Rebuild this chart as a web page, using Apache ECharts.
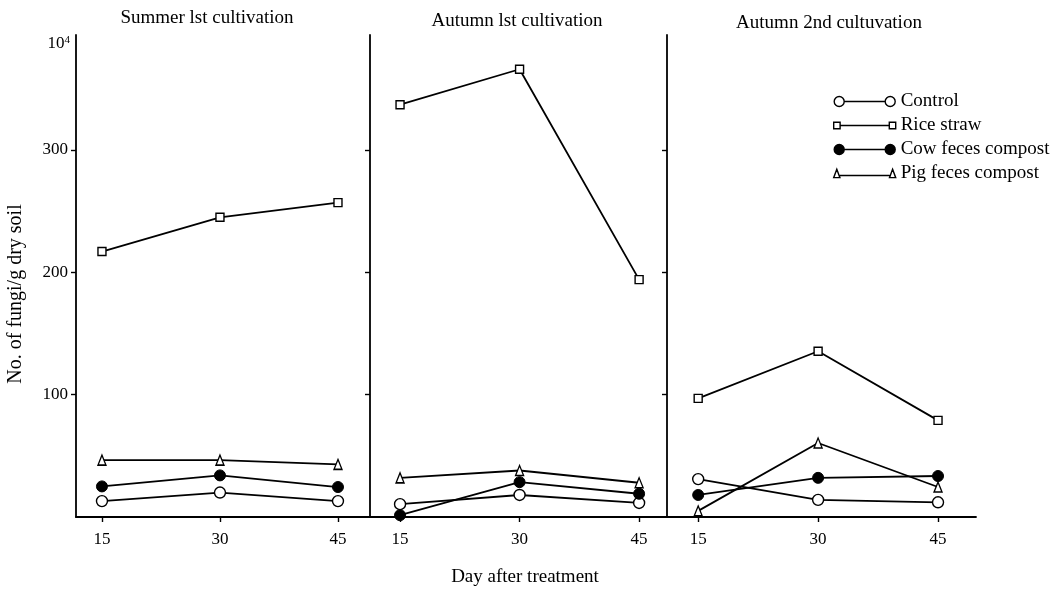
<!DOCTYPE html>
<html><head><meta charset="utf-8">
<script src="https://cdn.jsdelivr.net/npm/echarts@6/dist/echarts.min.js"></script>
<style>html,body{margin:0;padding:0;background:#fff}#c{width:1057px;height:590px}</style>
</head><body><div id="c"></div>
<script>
// ---- data ----
const days = [15, 30, 45];
const xTicks = [15, 30, 45];
const yTicks = [100, 200, 300];
const panelTitles = ['Summer lst cultivation', 'Autumn lst cultivation', 'Autumn 2nd cultuvation'];
const seriesNames = ['Control', 'Rice straw', 'Cow feces compost', 'Pig feces compost'];
const control    = [[13, 20, 13],    [10.5, 18, 11.5], [31, 14, 12]];
const riceStraw  = [[217, 245, 257], [337, 366, 194],  [97, 135.5, 79]];
const cowCompost = [[25, 34, 24.5],  [1.5, 28.5, 19],  [18, 32, 33.5]];
const pigCompost = [[46.5, 46.5, 43], [32, 38, 28],    [5, 60.5, 24.5]];
const yUnitLabel = '10';
const yUnitExp = '4';
const yAxisTitle = 'No. of fungi/g dry soil';
const xAxisTitle = 'Day after treatment';

// ---- layout ----
const FONT = 'Liberation Serif';
const panels = [
  { left: 76,  width: 294, xMin: 11.7,  xMax: 49.07, titleX: 207, titleY: 18 },
  { left: 370, width: 297, xMin: 11.23, xMax: 48.5,  titleX: 517, titleY: 21 },
  { left: 667, width: 309, xMin: 11.1,  xMax: 49.75, titleX: 829, titleY: 23 }
];
const TOP = 35, HEIGHT = 482, YMAX = 394;

const openStyle = { color: '#fff', borderColor: '#000', borderWidth: 1.4 };
const seriesDefs = [
  { name: seriesNames[0], values: control,    symbol: 'circle',   size: 11,      item: openStyle },
  { name: seriesNames[1], values: riceStraw,  symbol: 'rect',     size: 8,       item: openStyle },
  { name: seriesNames[2], values: cowCompost, symbol: 'circle',   size: 11,      item: { color: '#000', borderColor: '#000', borderWidth: 1 } },
  { name: seriesNames[3], values: pigCompost, symbol: 'triangle', size: [8, 10], item: openStyle }
];

const grid = [], xAxis = [], yAxis = [], series = [];
panels.forEach((p, i) => {
  grid.push({ left: p.left, top: TOP, width: p.width, height: HEIGHT });
  xAxis.push({
    type: 'value', gridIndex: i, min: p.xMin, max: p.xMax,
    axisLine: { lineStyle: { color: '#000', width: 1.8 } },
    axisTick: { customValues: xTicks, length: 5, lineStyle: { color: '#000', width: 1.4 } },
    axisLabel: { customValues: xTicks, color: '#000', fontFamily: FONT, fontSize: 17, margin: 14 },
    splitLine: { show: false }
  });
  yAxis.push({
    type: 'value', gridIndex: i, min: 0, max: YMAX,
    axisLine: { show: true, lineStyle: { color: '#000', width: 1.8 } },
    axisTick: { show: true, customValues: yTicks, length: 5, lineStyle: { color: '#000', width: 1.4 } },
    axisLabel: i === 0
      ? { customValues: yTicks, color: '#000', fontFamily: FONT, fontSize: 17, margin: 8 }
      : { show: false },
    splitLine: { show: false }
  });
  seriesDefs.forEach(d => {
    series.push({
      name: d.name, type: 'line', xAxisIndex: i, yAxisIndex: i,
      data: days.map((x, k) => [x, d.values[i][k]]),
      symbol: d.symbol, symbolSize: d.size, showAllSymbol: true,
      itemStyle: d.item,
      lineStyle: { color: '#000', width: 1.8 },
      emphasis: { disabled: true },
      animation: false
    });
  });
});

const legendIcons = [
  'path://M1,6A5,5,0,1,0,11,6A5,5,0,1,0,1,6ZM11,6L52,6M52,6A5,5,0,1,0,62,6A5,5,0,1,0,52,6Z',
  'path://M3,3L9,3L9,9L3,9ZM9,6L55,6M55,3L61,3L61,9L55,9Z',
  'path://M1,6A5,5,0,1,0,11,6A5,5,0,1,0,1,6ZM11,6L52,6M52,6A5,5,0,1,0,62,6A5,5,0,1,0,52,6Z',
  'path://M4,2L1,10L7,10ZM7,8L55,8M58,2L55,10L61,10Z'
];

const graphic = [];
panels.forEach((p, i) => {
  graphic.push({ type: 'text', x: p.titleX, y: p.titleY,
    style: { text: panelTitles[i], fill: '#000', font: '19px "' + FONT + '"', align: 'center', verticalAlign: 'middle' } });
});
graphic.push({ type: 'text', x: 525, y: 577,
  style: { text: xAxisTitle, fill: '#000', font: '19px "' + FONT + '"', align: 'center', verticalAlign: 'middle' } });
graphic.push({ type: 'text', x: 16, y: 294, rotation: Math.PI / 2,
  style: { text: yAxisTitle, fill: '#000', font: '20px "' + FONT + '"', align: 'center', verticalAlign: 'middle' } });
graphic.push({ type: 'text', x: 70, y: 44,
  style: { text: '{a|' + yUnitLabel + '}{b|' + yUnitExp + '}', align: 'right', verticalAlign: 'middle',
    rich: { a: { fontFamily: FONT, fontSize: 17, color: '#000' },
            b: { fontFamily: FONT, fontSize: 11, color: '#000', verticalAlign: 'top', padding: [0, 0, 8, 0] } } } });

const chart = echarts.init(document.getElementById('c'), null, { renderer: 'canvas' });
chart.setOption({
  animation: false,
  backgroundColor: '#fff',
  grid, xAxis, yAxis, series, graphic,
  legend: {
    orient: 'vertical', left: 828, top: 87, itemGap: 5,
    itemWidth: 62, itemHeight: 10,
    textStyle: { fontFamily: FONT, fontSize: 19, color: '#000' },
    data: seriesDefs.map((d, k) => ({
      name: d.name, icon: legendIcons[k],
      itemStyle: k === 2 ? { color: '#000', borderColor: '#000', borderWidth: 1.4 }
                         : { color: '#fff', borderColor: '#000', borderWidth: 1.4 }
    })),
    selectedMode: false
  }
});
</script></body></html>
